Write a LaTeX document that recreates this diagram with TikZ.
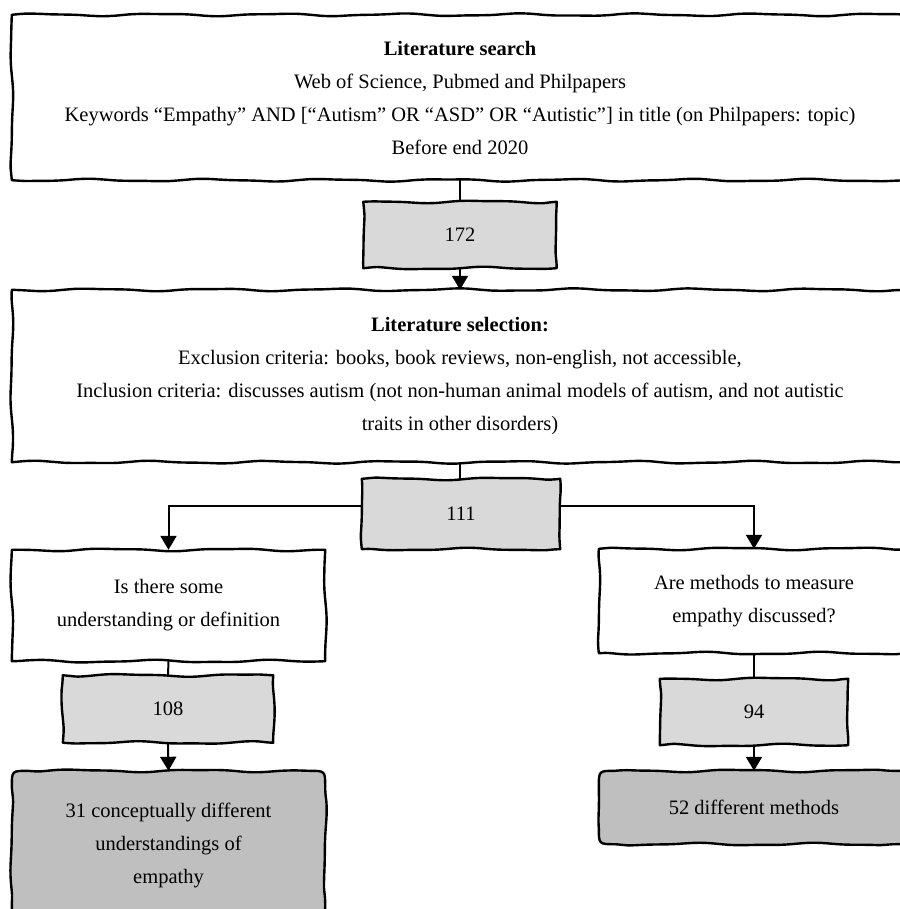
\documentclass[tikz,border=0pt]{standalone}
\usepackage{fontspec}
\setmainfont{Liberation Serif}
\usetikzlibrary{arrows.meta,calc,backgrounds}
\definecolor{countgray}{HTML}{D9D9D9}
\definecolor{endgray}{HTML}{BFBFBF}
\tikzset{
  box/.style={inner sep=0pt, align=center, font=\fontsize{20.5}{33}\selectfont},
  border/.style={draw, line width=2.4pt, line join=round},
  link/.style={line width=2pt},
  arrow/.style={link, -{Triangle[width=16pt,length=14pt]}}
}
% wave offset: #1 parameter t, #2 side length, #3 phase
\newcommand\wob[3]{(min(1,#1*#2/14,(1-#1)*#2/14)*(1.1*sin(#1*#2*3+#3)+0.4*sin(#1*#2*6.5+2*#3)))}
% #1 node name, #2 fill colour, #3 corner radius (pt), #4 phase
\newcommand\wobblebox[4]{%
  \path[border, fill=#2] let \p1=(#1.north west), \p2=(#1.south east),
     \n1={\x2-\x1-2*#3pt}, \n2={\y1-\y2-2*#3pt} in
   ({\x1+#3pt},\y1)
   -- plot[smooth, variable=\t, domain=0:1, samples=70]
        ({\x1+#3pt+\t*\n1}, {\y1+\wob{\t}{\n1}{#4}})
   .. controls (\x2,\y1) .. (\x2,{\y1-#3pt})
   -- plot[smooth, variable=\t, domain=0:1, samples=40]
        ({\x2+\wob{\t}{\n2}{#4+70}}, {\y1-#3pt-\t*\n2})
   .. controls (\x2,\y2) .. ({\x2-#3pt},\y2)
   -- plot[smooth, variable=\t, domain=0:1, samples=70]
        ({\x2-#3pt-\t*\n1}, {\y2+\wob{\t}{\n1}{#4+140}})
   .. controls (\x1,\y2) .. (\x1,{\y2+#3pt})
   -- plot[smooth, variable=\t, domain=0:1, samples=40]
        ({\x1+\wob{\t}{\n2}{#4+210}}, {\y2+#3pt+\t*\n2})
   .. controls (\x1,\y1) .. ({\x1+#3pt},\y1) -- cycle;}
\begin{document}
\begin{tikzpicture}[x=1pt,y=-1pt]
\useasboundingbox (0,0) rectangle (899,909);
\node[box, minimum width=896pt, minimum height=165pt] (search) at (460,97.5)
  {\textbf{Literature search}\\
   Web of Science, Pubmed and Philpapers\\
   Keywords “Empathy” AND [“Autism” OR “ASD” OR “Autistic”] in title (on Philpapers: topic)\\
   Before end 2020};
\node[box, minimum width=193pt, minimum height=66pt] (n172) at (460,235) {172};
\node[box, minimum width=896pt, minimum height=172pt] (select) at (460,376)
  {\textbf{Literature selection:}\\
   Exclusion criteria: books, book reviews, non-english, not accessible,\\
   Inclusion criteria: discusses autism (not non-human animal models of autism, and not autistic\\
   traits in other disorders)};
\node[box, minimum width=198pt, minimum height=70pt] (n111) at (461,514) {111};
\node[box, minimum width=313pt, minimum height=111pt] (q1) at (168.5,605.5)
  {Is there some\\ understanding or definition};
\node[box, minimum width=210pt, minimum height=67pt] (n108) at (168,709) {108};
\node[box, minimum width=313pt, minimum height=148pt] (e1) at (168.5,845)
  {31 conceptually different\\ understandings of\\ empathy};
\node[box, minimum width=310pt, minimum height=104pt] (q2) at (754,601)
  {Are methods to measure\\ empathy discussed?};
\node[box, minimum width=188pt, minimum height=66pt] (n94) at (754,712) {94};
\node[box, minimum width=310pt, minimum height=73pt] (e2) at (754,807.5)
  {52 different methods};

\begin{scope}[on background layer]
  \wobblebox{search}{white}{0}{10}
  \wobblebox{n172}{countgray}{0}{95}
  \wobblebox{select}{white}{0}{200}
  \wobblebox{n111}{countgray}{0}{33}
  \wobblebox{q1}{white}{0}{150}
  \wobblebox{n108}{countgray}{0}{260}
  \wobblebox{e1}{endgray}{16}{300}
  \wobblebox{q2}{white}{0}{45}
  \wobblebox{n94}{countgray}{0}{120}
  \wobblebox{e2}{endgray}{16}{75}
\end{scope}

\draw[link] (search.south) -- (n172.north);
\draw[arrow] (n172.south) -- (select.north);
\draw[link] (select.south) -- (select.south |- n111.north);
\draw[arrow] ([yshift=8pt]n111.west) -| (q1.north);
\draw[arrow] ([yshift=8pt]n111.east) -| (q2.north);
\draw[link] (q1.south) -- (n108.north);
\draw[arrow] (n108.south) -- (e1.north);
\draw[link] (q2.south) -- (n94.north);
\draw[arrow] (n94.south) -- (e2.north);
\end{tikzpicture}
\end{document}
